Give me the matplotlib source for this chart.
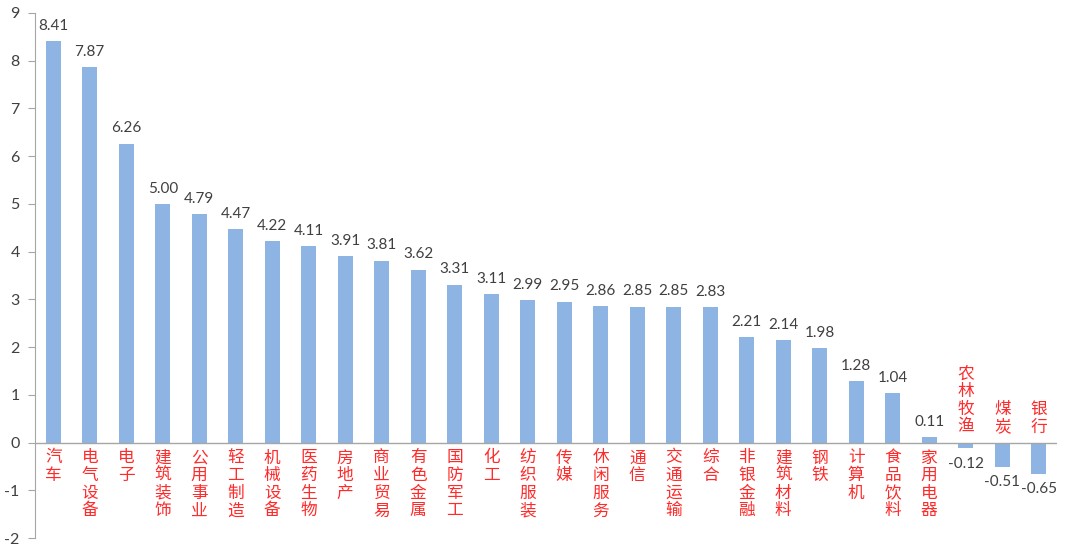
import matplotlib
matplotlib.use("Agg")
from matplotlib import pyplot as plt

categories = ["汽车", "电气设备", "电子", "建筑装饰", "公用事业", "轻工制造", "机械设备",
              "医药生物", "房地产", "商业贸易", "有色金属", "国防军工", "化工", "纺织服装",
              "传媒", "休闲服务", "通信", "交通运输", "综合", "非银金融", "建筑材料",
              "钢铁", "计算机", "食品饮料", "家用电器", "农林牧渔", "煤炭", "银行"]
values = [8.41, 7.87, 6.26, 5.00, 4.79, 4.47, 4.22, 4.11, 3.91, 3.81, 3.62, 3.31,
          3.11, 2.99, 2.95, 2.86, 2.85, 2.85, 2.83, 2.21, 2.14, 1.98, 1.28, 1.04,
          0.11, -0.12, -0.51, -0.65]
yticks = list(range(-2, 10))

plt.rcParams['font.family'] = ['Lato', 'Noto Sans CJK SC', 'DejaVu Sans']
plt.rcParams['axes.unicode_minus'] = False

fig = plt.figure(figsize=(10.8, 5.5), dpi=100)
ax = fig.add_axes([0.0324, 0.0218, 0.9463, 0.9546])

x = list(range(len(values)))
ax.bar(x, values, width=0.42, color='#8DB4E2', zorder=2)

cjk = ['Noto Sans CJK SC', 'DejaVu Sans']
for i, (c, v) in enumerate(zip(categories, values)):
    label = "\n".join(c)
    if v >= 0:
        ax.annotate(f"{v:.2f}", (i, v), xytext=(0, 6), textcoords='offset points',
                    ha='center', va='bottom', fontsize=11, color='#404040')
        ax.annotate(label, (i, 0), xytext=(0, -5), textcoords='offset points',
                    ha='center', va='top', fontsize=12, color='#FF2A2A',
                    linespacing=1.05, family=cjk, fontweight='light')
    else:
        ax.annotate(f"{v:.2f}", (i, v), xytext=(0, -6), textcoords='offset points',
                    ha='center', va='top', fontsize=11, color='#404040')
        ax.annotate(label, (i, 0), xytext=(0, 5), textcoords='offset points',
                    ha='center', va='bottom', fontsize=12, color='#FF2A2A',
                    linespacing=1.05, family=cjk, fontweight='light')

ax.set_xlim(-0.5, len(values) - 0.5)
ax.set_ylim(-2, 9)
ax.set_yticks(yticks)
ax.set_yticklabels([str(t) for t in yticks], fontsize=11.5, color='#404040')
ax.set_xticks([])
ax.axhline(0, color='#A6A6A6', lw=1, zorder=3)
for s in ['top', 'right', 'bottom']:
    ax.spines[s].set_visible(False)
ax.spines['left'].set_color('#A6A6A6')
ax.tick_params(axis='y', direction='out', length=5, color='#A6A6A6', pad=6)

fig.savefig("out.png", dpi=100)
